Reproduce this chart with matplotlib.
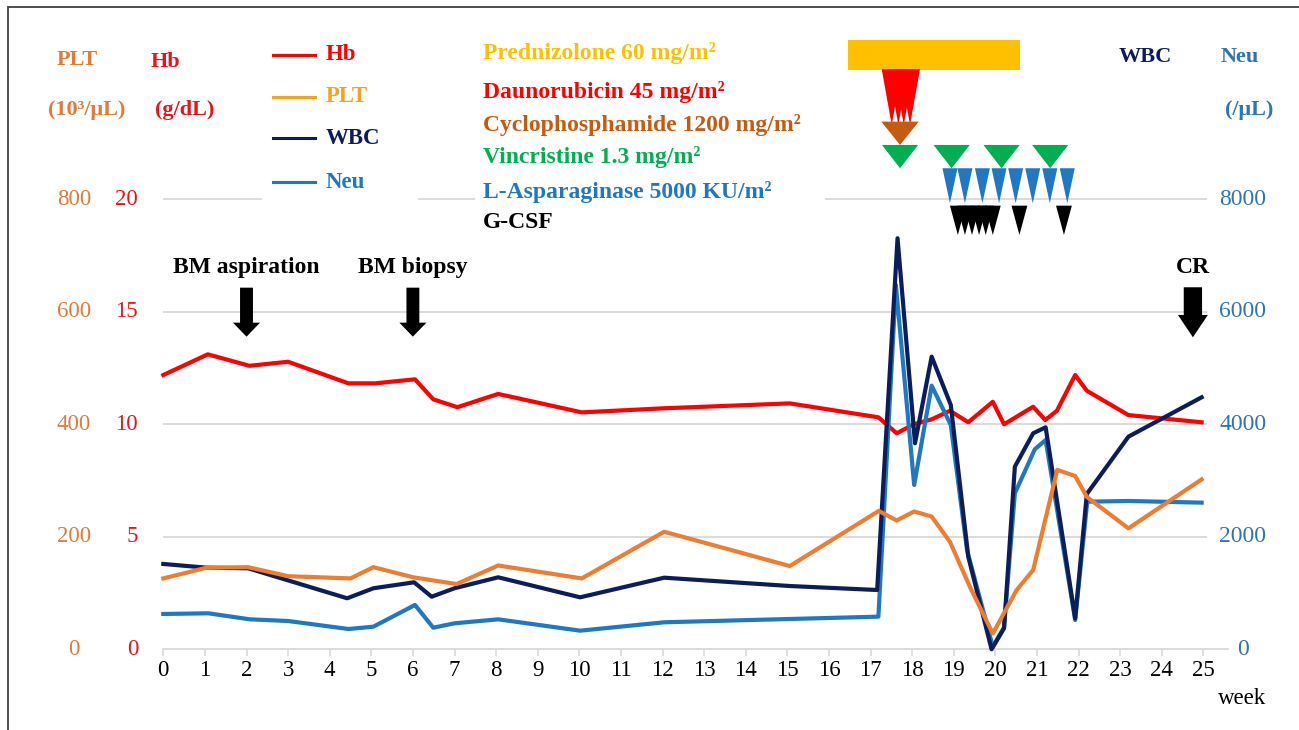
import matplotlib
matplotlib.use('Agg')
import matplotlib.pyplot as plt
from matplotlib.patches import Rectangle, Polygon, FancyArrow
from matplotlib.lines import Line2D
import matplotlib.transforms as mtrans

plt.rcParams['font.family'] = ['Liberation Serif', 'DejaVu Serif']

# ---------------- data ----------------
hb_weeks = [0, 1.07, 2.07, 3.0, 4.45, 5.09, 6.05, 6.49, 7.07, 8.05, 10.06, 12.02, 15.06,
            17.19, 17.63, 18.05, 18.47, 18.91, 19.35, 19.94, 20.21, 20.91, 21.2, 21.48,
            21.92, 22.2, 23.2, 24.96]
hb_vals = [12.19, 13.11, 12.6, 12.78, 11.82, 11.82, 12.0, 11.11, 10.76, 11.35, 10.53, 10.71, 10.93,
           10.31, 9.6, 10.01, 10.22, 10.6, 10.09, 11.0, 10.0, 10.78, 10.19, 10.6,
           12.19, 11.49, 10.41, 10.09]

plt_weeks = [0, 1.04, 2.04, 3.0, 4.5, 5.05, 6.01, 7.05, 8.05, 10.06, 12.04, 15.06, 17.2, 17.63,
             18.05, 18.47, 18.91, 19.39, 19.94, 20.51, 20.91, 21.49, 21.92, 22.2, 23.2, 24.96]
plt_vals = [126, 145, 146, 130, 126, 146, 128, 116, 149, 126, 209, 148, 246, 229,
            245, 236, 191, 111, 28, 105, 141, 319, 308, 271, 215, 302]

wbc_weeks = [0, 1.04, 2.04, 4.42, 5.05, 6.03, 6.45, 7.0, 8.05, 10.02, 12.04, 15.06, 17.16, 17.65,
             18.07, 18.47, 18.93, 19.35, 19.91, 20.21, 20.47, 20.91, 21.21, 21.92, 22.2, 23.2, 24.96]
wbc_vals = [1517, 1451, 1440, 907, 1085, 1191, 935, 1085, 1280, 924, 1273, 1125, 1054, 7308,
            3663, 5203, 4344, 1646, 0, 373, 3247, 3840, 3947, 551, 2761, 3780, 4480]

neu_weeks = [0, 1.08, 2.08, 3.0, 4.45, 5.05, 6.05, 6.49, 7.0, 8.05, 10.02, 12.04, 15.06, 17.19,
             17.61, 18.05, 18.47, 18.93, 19.32, 19.94, 20.21, 20.47, 20.95, 21.21, 21.92, 22.21,
             23.2, 24.96]
neu_vals = [628, 640, 533, 503, 361, 402, 788, 384, 462, 533, 331, 480, 539, 580,
            6477, 2921, 4687, 3988, 1765, 46, 391, 2773, 3556, 3721, 521, 2624,
            2637, 2607]

week_ticks = list(range(26))
hb_ticks = [0, 5, 10, 15, 20]
plt_ticks = [0, 200, 400, 600, 800]
neu_ticks = [0, 2000, 4000, 6000, 8000]

# treatment schedule (weeks)
pred_start, pred_end = 16.47, 20.59
dauno_weeks = [17.51, 17.67, 17.80, 17.95]
cyclo_weeks = [17.71]
vcr_weeks = [17.71, 18.95, 20.15, 21.32]
lasp_weeks = [18.91, 19.27, 19.69, 20.09, 20.49, 20.90, 21.31, 21.73]
gcsf_weeks = [19.10, 19.27, 19.44, 19.61, 19.77, 19.94, 20.58, 21.65]

event_weeks = [2, 6, 24.75]
event_labels = ['BM aspiration', 'BM biopsy', 'CR']

drug_labels = ['Prednizolone 60 mg/m²', 'Daunorubicin 45 mg/m²', 'Cyclophosphamide 1200 mg/m²',
               'Vincristine 1.3 mg/m²', 'L-Asparaginase 5000 KU/m²', 'G-CSF']

# ---------------- style ----------------
C_HB = '#FF0000'
C_PLT = '#ED7D31'
C_WBC = '#0B1E5B'
C_NEU = '#1F78C1'
C_GRID = '#D9D9D9'
drug_colors = ['#FFC000', '#FF0000', '#C55A11', '#00B050', '#1F78C1', '#000000']

W, H = 1299, 730
fig = plt.figure(figsize=(W / 100, H / 100), dpi=100)
x0px, y0px = 163.3, 649.3
pxw = 41.6
xmax = (1228 - x0px) / pxw
vmax = 11200
pxv = 112.5 / 2000
ax = fig.add_axes([x0px / W, (H - y0px) / H, (xmax * pxw) / W, (vmax * pxv) / H])
ax.set_xlim(0, xmax)
ax.set_ylim(0, vmax / 400)
for s in ['top', 'left', 'right']:
    ax.spines[s].set_visible(False)
ax.spines['bottom'].set_color(C_GRID)
ax.spines['bottom'].set_linewidth(1.3)
ax.set_yticks([])
ax.set_xticks(week_ticks)
ax.set_xticklabels([str(t) for t in week_ticks])
ax.tick_params(axis='x', colors=C_GRID, length=5, width=1.2, pad=3, labelsize=16.5,
               labelcolor='black')
ax.hlines(hb_ticks[1:], 0, (1207 - x0px) / pxw, color=C_GRID, lw=1.3, zorder=0.5)

ax_neu = ax.twinx()
ax_neu.set_ylim(0, vmax)
ax_neu.set_axis_off()
ax_plt = ax.twinx()
ax_plt.set_ylim(0, vmax / 10)
ax_plt.set_axis_off()

ax.plot(hb_weeks, hb_vals, color=C_HB, lw=3, clip_on=False, zorder=3)
ax_neu.plot(neu_weeks, neu_vals, color=C_NEU, lw=3, clip_on=False, zorder=3)
ax_neu.plot(wbc_weeks, wbc_vals, color=C_WBC, lw=3, clip_on=False, zorder=4)
ax_plt.plot(plt_weeks, plt_vals, color=C_PLT, lw=3, clip_on=False, zorder=3)

# treatment markers
ax_neu.add_patch(Rectangle((pred_start, 10300), pred_end - pred_start, 533,
                           color=drug_colors[0], lw=0, zorder=5))


def tri(c, top, h, w, color):
    ax_neu.add_patch(Polygon([[c - w / 2, top], [c + w / 2, top], [c, top - h]], closed=True,
                             facecolor=color, edgecolor='none', zorder=5, clip_on=False))


for c in dauno_weeks:
    tri(c, 10312, 990, 0.48, drug_colors[1])
for c in cyclo_weeks:
    tri(c, 9381, 415, 0.90, drug_colors[2])
for c in vcr_weeks:
    tri(c, 8966, 414, 0.87, drug_colors[3])
for c in lasp_weeks:
    tri(c, 8552, 622, 0.36, drug_colors[4])
for c in gcsf_weeks:
    tri(c, 7887, 521, 0.38, drug_colors[5])

# event arrows
arrow_specs = [(6429, 871, 249, 0.31, 0.65), (6429, 871, 249, 0.31, 0.65), (6436, 889, 397, 0.44, 0.72)]
for wk, lab, (top, L, hl, sw, hw) in zip(event_weeks, event_labels, arrow_specs):
    ax_neu.add_patch(FancyArrow(wk, top, 0, -L, width=sw, head_width=hw, head_length=hl,
                                length_includes_head=True, color='black', lw=0, zorder=6))
    ax_neu.text(wk, 6780, lab, ha='center', va='center', fontsize=17, fontweight='bold',
                color='black')

# axis tick labels
tr_neu = mtrans.blended_transform_factory(fig.transFigure, ax_neu.transData)
for v in neu_ticks:
    fig.text(1243 / W, v, str(v), transform=tr_neu, ha='center', va='center', fontsize=17,
             color='#2E75B6')
tr_hb = mtrans.blended_transform_factory(fig.transFigure, ax.transData)
for v in hb_ticks:
    fig.text(138 / W, v, str(v), transform=tr_hb, ha='right', va='center', fontsize=16.5,
             color='#E8141B')
tr_plt = mtrans.blended_transform_factory(fig.transFigure, ax_plt.transData)
for v in plt_ticks:
    fig.text(74 / W, v, str(v), transform=tr_plt, ha='center', va='center', fontsize=16.5,
             color='#E07B39')


def ft(px, py, s, **kw):
    return fig.text(px / W, 1 - py / H, s, zorder=3, **kw)


# white boxes under legend / drug list
for (xa, ya, xb, yb) in [(262, 30, 418, 205), (475, 35, 825, 240)]:
    fig.patches.append(Rectangle((xa / W, 1 - yb / H), (xb - xa) / W, (yb - ya) / H,
                                 transform=fig.transFigure, facecolor='white',
                                 edgecolor='none', zorder=1))

# axis headers
ft(77, 60, 'PLT', ha='center', va='center', fontsize=16, fontweight='bold', color='#E07B39')
ft(87, 110, '(10³/μL)', ha='center', va='center', fontsize=16, fontweight='bold', color='#E07B39')
ft(165, 62, 'Hb', ha='center', va='center', fontsize=16, fontweight='bold', color='#E8141B')
ft(185, 110, '(g/dL)', ha='center', va='center', fontsize=16, fontweight='bold', color='#E8141B')
ft(1145, 57, 'WBC', ha='center', va='center', fontsize=16, fontweight='bold', color=C_WBC)
ft(1240, 57, 'Neu', ha='center', va='center', fontsize=16, fontweight='bold', color='#2E75B6')
ft(1249, 110, '(/μL)', ha='center', va='center', fontsize=16, fontweight='bold', color='#2E75B6')
ft(1242, 698, 'week', ha='center', va='center', fontsize=16.5, color='black')

# legend
legend_items = [('Hb', C_HB, C_HB, 55), ('PLT', '#F5A31A', '#F5A31A', 97),
                ('WBC', C_WBC, C_WBC, 138), ('Neu', C_NEU, C_NEU, 182)]
for lab, lc, tc, py in legend_items:
    for xa, xb in [(273, 293), (296, 315)]:
        fig.lines.append(Line2D([xa / W, xb / W], [1 - py / H, 1 - py / H], transform=fig.transFigure,
                                color=lc, lw=2.2, zorder=2))
    ft(326, py, lab, ha='left', va='center', fontsize=16.5, fontweight='bold', color=tc)

# drug list
drug_y = [53, 91.7, 125, 156.7, 191.7, 223]
for lab, col, py in zip(drug_labels, drug_colors, drug_y):
    ft(483, py, lab, ha='left', va='center', fontsize=17, fontweight='bold', color=col)

# outer frame
fig.patches.append(Rectangle((8 / W, -0.05), 1.1, (1 - 7 / H) + 0.05, transform=fig.transFigure,
                             fill=False, edgecolor='#404040', lw=1.3, zorder=0))

fig.savefig('out.png', dpi=100)
